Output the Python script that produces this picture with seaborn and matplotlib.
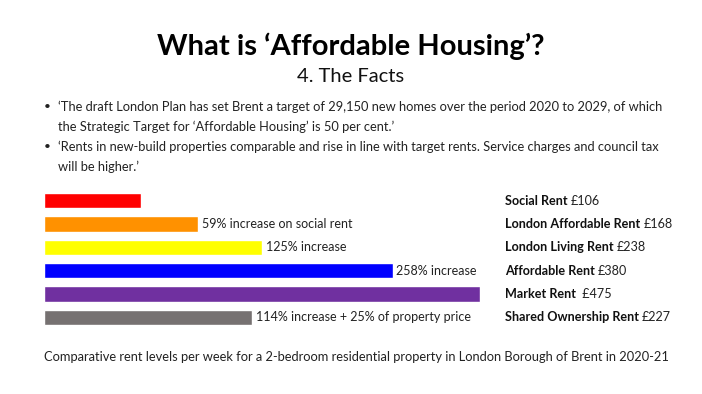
import matplotlib
matplotlib.use("Agg")
import matplotlib.pyplot as plt
import seaborn as sns
import pandas as pd

# data
categories = ["Social Rent", "London Affordable Rent", "London Living Rent",
              "Affordable Rent", "Market Rent", "Shared Ownership Rent"]
rents = [106, 168, 238, 380, 475, 227]
value_labels = ["£106", "£168", "£238", "£380", " £475", "£227"]
bar_notes = ["", "59% increase on social rent", "125% increase",
             "258% increase", "", "114% increase + 25% of property price"]
colors = ["#FF0000", "#FF9100", "#FFFF00", "#0000FF", "#7030A0", "#767171"]

title = "What is \u2018Affordable Housing\u2019?"
subtitle = "4. The Facts"
bullet_lines = [
    ("\u2022", "\u2018The draft London Plan has set Brent a target of 29,150 new homes over the period 2020 to 2029, of which"),
    ("", "the Strategic Target for \u2018Affordable Housing\u2019 is 50 per cent.\u2019"),
    ("\u2022", "\u2018Rents in new-build properties comparable and rise in line with target rents. Service charges and council tax"),
    ("", "will be higher.\u2019"),
]
caption = "Comparative rent levels per week for a 2-bedroom residential property in London Borough of Brent in 2020-21"

sns.set_theme(style="white")
plt.rcParams["font.family"] = ["Lato", "DejaVu Sans"]

W, H = 702, 394
fig = plt.figure(figsize=(W / 100, H / 100), dpi=100)

# axes placed in pixel coords: x 44..480, y 189..329
ax = fig.add_axes([44 / W, 1 - 329 / H, (480 - 44) / W, (329 - 189) / H])

df = pd.DataFrame({"category": categories, "rent": rents})
sns.barplot(data=df, x="rent", y="category", hue="category", palette=colors,
            orient="h", width=0.65, legend=False, ax=ax, saturation=1)
ax.set_xlim(0, 475)
ax.set_axis_off()

for i, (v, note) in enumerate(zip(rents, bar_notes)):
    if note:
        ax.text(v + 4, i, note, va="center", ha="left", fontsize=9.0, color="#222222")

fig.canvas.draw()
renderer = fig.canvas.get_renderer()
for i, (cat, val) in enumerate(zip(categories, value_labels)):
    y = 1 - (201 + i * 23.2) / H
    t = fig.text(505 / W, y, cat, fontsize=9.1, fontweight="bold", va="center", ha="left", color="#111111")
    bb = t.get_window_extent(renderer=renderer)
    fig.text((bb.x1 + 3) / W, y, val, fontsize=9.1, va="center", ha="left", color="#222222")

fig.text(351 / W, 1 - 46 / H, title, fontsize=21, fontweight="bold", ha="center", va="center", color="black")
fig.text(351 / W, 1 - 76 / H, subtitle, fontsize=14.5, ha="center", va="center", color="#111111")

for k, (b, line) in enumerate(bullet_lines):
    y = 1 - (107 + k * 20) / H
    if b:
        fig.text(44 / W, y, b, fontsize=8.5, ha="left", va="center", color="#222222")
    fig.text(58 / W, y, line, fontsize=9.3, ha="left", va="center", color="#222222")

fig.text(44 / W, 1 - 357 / H, caption, fontsize=9.3, ha="left", va="center", color="#222222")

fig.savefig("out.png", dpi=100)
